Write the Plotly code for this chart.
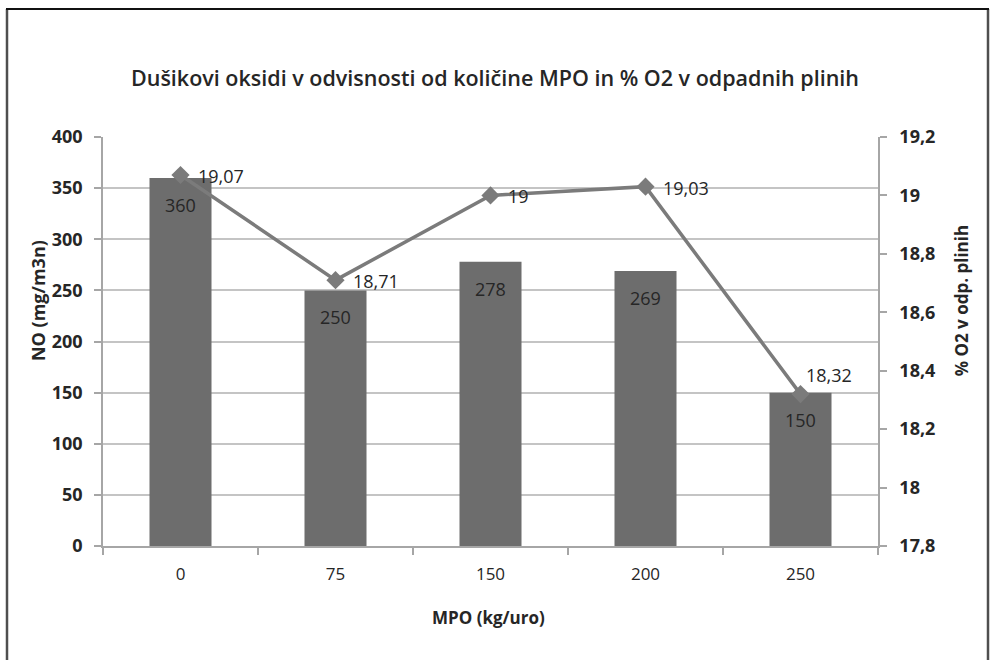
import plotly.graph_objects as go

categories = ["0", "75", "150", "200", "250"]
no_values = [360, 250, 278, 269, 150]
o2_values = [19.07, 18.71, 19.0, 19.03, 18.32]
o2_label_above = [False, False, False, False, True]
left_ticks = [0, 50, 100, 150, 200, 250, 300, 350, 400]
right_tickvals = [17.8, 18.0, 18.2, 18.4, 18.6, 18.8, 19.0, 19.2]
right_ticktext = ["17,8", "18", "18,2", "18,4", "18,6", "18,8", "19", "19,2"]

BAR_COLOR = "#6d6d6d"
LINE_COLOR = "#7b7b7b"
GRID = "#c4c4c4"
AXIS = "#a6a6a6"
TXT = "#262626"

def fmt(v):
    return f"{v:g}".replace(".", ",")

fig = go.Figure()
fig.add_trace(go.Bar(
    x=categories, y=no_values, marker=dict(color=BAR_COLOR, line=dict(width=0)),
    width=0.4, showlegend=False, hoverinfo="skip",
))
fig.add_trace(go.Scatter(
    x=categories, y=o2_values, yaxis="y2", mode="lines+markers",
    line=dict(color=LINE_COLOR, width=3.5),
    marker=dict(symbol="diamond", size=14, color=LINE_COLOR),
    showlegend=False, hoverinfo="skip", cliponaxis=False,
))

annotations = []
for i, v in enumerate(no_values):
    annotations.append(dict(
        x=i, y=v, xref="x", yref="y", text=str(v), showarrow=False,
        yanchor="middle", yshift=-27,
        font=dict(family="Open Sans", size=18, color=TXT),
    ))
for i, (v, above) in enumerate(zip(o2_values, o2_label_above)):
    annotations.append(dict(
        x=i, y=v, xref="x", yref="y2", text=fmt(v), showarrow=False,
        xanchor="left", yanchor="middle",
        xshift=3 if above else 15, yshift=19 if above else -1,
        font=dict(family="Open Sans", size=18, color=TXT),
    ))

# axis titles
annotations.append(dict(
    x=-0.084, y=0.601, xref="paper", yref="paper", text="NO (mg/m3n)",
    showarrow=False, textangle=-90, xanchor="center", yanchor="middle",
    font=dict(family="Open Sans", size=18, color=TXT, weight="bold"),
))
annotations.append(dict(
    x=1.108, y=0.60, xref="paper", yref="paper", text="% O2 v odp. plinih",
    showarrow=False, textangle=-90, xanchor="center", yanchor="middle",
    font=dict(family="Open Sans", size=17, color=TXT, weight="bold"),
))
annotations.append(dict(
    x=0.497, y=(546 - 617) / 409, xref="paper", yref="paper", text="MPO (kg/uro)",
    showarrow=False, xanchor="center", yanchor="middle",
    font=dict(family="Open Sans", size=17, color=TXT, weight="bold"),
))

PL, PR, PT, PB = 103, 878, 137, 546
W = PR - PL
H = PB - PT

def px(x):
    return (x - PL) / W

def py(y):
    return (PB - y) / H

shapes = [
    dict(type="line", xref="paper", yref="paper", x0=px(7), x1=px(7), y0=py(9), y1=py(700),
         line=dict(color="#4f4f4f", width=2.5)),
    dict(type="line", xref="paper", yref="paper", x0=px(988), x1=px(988), y0=py(9), y1=py(700),
         line=dict(color="#4f4f4f", width=2.5)),
    dict(type="line", xref="paper", yref="paper", x0=px(6), x1=px(989), y0=py(9), y1=py(9),
         line=dict(color="#111111", width=2)),
]

fig.update_layout(
    width=990, height=660,
    margin=dict(l=PL, r=990 - PR, t=PT, b=660 - PB),
    paper_bgcolor="white", plot_bgcolor="white",
    separators=", ",
    title=dict(
        text="Dušikovi oksidi v odvisnosti od količine MPO in % O2 v odpadnih plinih",
        x=px(495), xref="paper", xanchor="center", y=1 - 78 / 660, yanchor="middle",
        font=dict(family="Open Sans", size=21.5, color=TXT, weight=600),
    ),
    bargap=0.6,
    xaxis=dict(
        type="category", showgrid=False, showline=True, linecolor=AXIS, linewidth=1.5,
        ticks="outside", ticklen=7, tickcolor=AXIS, tickwidth=1.5, tickson="boundaries",
        tickfont=dict(family="Open Sans", size=17, color=TXT), ticklabelstandoff=12,
        range=[-0.5, 4.5], fixedrange=True,
    ),
    xaxis2=dict(
        overlaying="x", anchor="y", range=[-0.5, 4.5], tickmode="array",
        tickvals=[-0.5, 0.5, 1.5, 2.5, 3.5, 4.5], ticks="inside", ticklen=6,
        tickcolor=AXIS, tickwidth=1.5, showticklabels=False, showgrid=False,
        showline=False, zeroline=False,
    ),
    yaxis=dict(
        range=[0, 400], tickmode="array", tickvals=left_ticks,
        showgrid=True, gridcolor=GRID, gridwidth=1.5, zeroline=False,
        showline=True, linecolor=AXIS, linewidth=1.5,
        ticks="outside", ticklen=7, tickcolor=AXIS, tickwidth=1.5,
        tickfont=dict(family="Open Sans", size=18, color=TXT, weight="bold"),
        ticklabelstandoff=8,
    ),
    yaxis2=dict(
        overlaying="y", side="right", range=[17.8, 19.2], tickmode="array",
        tickvals=right_tickvals, ticktext=right_ticktext, showgrid=False, zeroline=False,
        showline=True, linecolor=AXIS, linewidth=1.5,
        ticks="outside", ticklen=7, tickcolor=AXIS, tickwidth=1.5,
        tickfont=dict(family="Open Sans", size=18, color=TXT, weight="bold"),
        ticklabelstandoff=9,
    ),
    yaxis3=dict(
        overlaying="y", side="right", anchor="x", range=[17.8, 19.2], tickmode="array",
        tickvals=right_tickvals, showticklabels=False, showgrid=False, zeroline=False,
        showline=False, ticks="inside", ticklen=6, tickcolor=AXIS, tickwidth=1.5,
    ),
    annotations=annotations,
    shapes=shapes,
)

fig.write_html("out.html")
